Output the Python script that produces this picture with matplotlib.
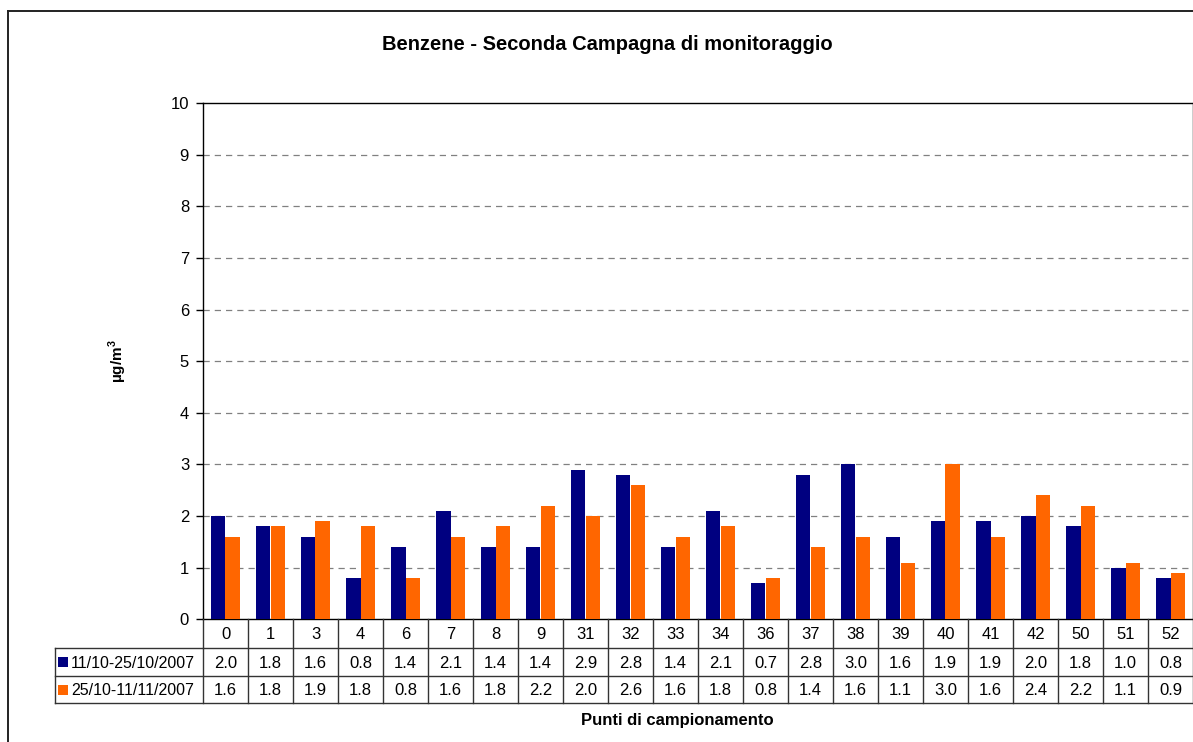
import matplotlib
matplotlib.use("Agg")
import matplotlib.pyplot as plt
from matplotlib.patches import Rectangle

# Sampling points and benzene concentrations (µg/m³)
punti = ["0", "1", "3", "4", "6", "7", "8", "9", "31", "32", "33",
         "34", "36", "37", "38", "39", "40", "41", "42", "50", "51", "52"]
serie_1_label = "11/10-25/10/2007"
serie_1 = [2.0, 1.8, 1.6, 0.8, 1.4, 2.1, 1.4, 1.4, 2.9, 2.8, 1.4,
           2.1, 0.7, 2.8, 3.0, 1.6, 1.9, 1.9, 2.0, 1.8, 1.0, 0.8]
serie_2_label = "25/10-11/11/2007"
serie_2 = [1.6, 1.8, 1.9, 1.8, 0.8, 1.6, 1.8, 2.2, 2.0, 2.6, 1.6,
           1.8, 0.8, 1.4, 1.6, 1.1, 3.0, 1.6, 2.4, 2.2, 1.1, 0.9]
y_ticks = list(range(0, 11))

NAVY = "#000080"
ORANGE = "#FF6600"
FONT = ["Liberation Sans", "DejaVu Sans"]
plt.rcParams["font.family"] = FONT

W, H = 1193, 742
fig = plt.figure(figsize=(W / 100, H / 100), dpi=100)

# pixel geometry of the plot area
px_left, px_right, px_top, px_bottom = 203, 1193, 103.3, 619.3
ax = fig.add_axes([px_left / W, 1 - px_bottom / H,
                   (px_right - px_left) / W, (px_bottom - px_top) / H])

n = len(punti)
xs = list(range(n))
bw = 0.318
ax.bar([x - bw / 2 for x in xs], serie_1, width=bw, color=NAVY, zorder=3)
ax.bar([x + bw / 2 for x in xs], serie_2, width=bw, color=ORANGE, zorder=3)

ax.set_xlim(-0.5, n - 0.5)
ax.set_ylim(0, 10)
ax.set_yticks(y_ticks)
ax.set_yticklabels([str(t) for t in y_ticks], fontsize=12)
ax.set_xticks([])
ax.tick_params(axis="y", direction="out", length=5, width=1, pad=5)
for t in y_ticks[1:-1]:
    ax.axhline(t, color="#808080", lw=0.9, ls=(0, (5, 4)), zorder=1)
for side in ["left", "top", "bottom", "right"]:
    ax.spines[side].set_color("black")
    ax.spines[side].set_linewidth(1.0)

# overlay in pixel coordinates for title, border and data table
ov = fig.add_axes([0, 0, 1, 1], zorder=5)
ov.set_xlim(0, W)
ov.set_ylim(H, 0)
ov.axis("off")
ov.patch.set_alpha(0)

# outer chart border
ov.plot([8, W + 5], [11, 11], color="#222222", lw=1.4)
ov.plot([8, 8], [11, H + 5], color="#222222", lw=1.4)

ov.text(607, 45, "Benzene - Seconda Campagna di monitoraggio",
        ha="center", va="center", fontsize=14.5, fontweight="bold")
ov.text(118, 361, "µg/m$^\\mathregular{3}$", rotation=90, ha="center",
        va="center", fontsize=11, fontweight="bold")
ov.text(677, 721, "Punti di campionamento", ha="center", va="center",
        fontsize=12, fontweight="bold")

# data table
col_w = (px_right - px_left) / n
rows = [619.3, 648, 676, 703]
lab_left = 55
lc = "#333333"
lw = 1.0
for k in range(1, 4):
    x0 = px_left if k == 1 else lab_left
    ov.plot([x0, px_right], [rows[k], rows[k]], color=lc, lw=lw)
ov.plot([lab_left, px_left], [rows[1], rows[1]], color=lc, lw=lw)
ov.plot([lab_left, lab_left], [rows[1], rows[3]], color=lc, lw=lw)
for i in range(n + 1):
    x = px_left + i * col_w
    ov.plot([x, x], [rows[0], rows[3]], color=lc, lw=lw)

for i, p in enumerate(punti):
    cx = px_left + (i + 0.5) * col_w
    ov.text(cx, (rows[0] + rows[1]) / 2 + 1, p, ha="center", va="center",
            fontsize=12)
    ov.text(cx, (rows[1] + rows[2]) / 2 + 1, f"{serie_1[i]:.1f}",
            ha="center", va="center", fontsize=12)
    ov.text(cx, (rows[2] + rows[3]) / 2 + 1, f"{serie_2[i]:.1f}",
            ha="center", va="center", fontsize=12)

for r, (lab, col) in enumerate([(serie_1_label, NAVY), (serie_2_label, ORANGE)]):
    cy = (rows[1 + r] + rows[2 + r]) / 2
    ov.add_patch(Rectangle((58, cy - 5), 10, 10, facecolor=col,
                           edgecolor="none"))
    ov.text(71, cy + 1, lab, ha="left", va="center", fontsize=11.5)

fig.savefig("out.png", dpi=100)
